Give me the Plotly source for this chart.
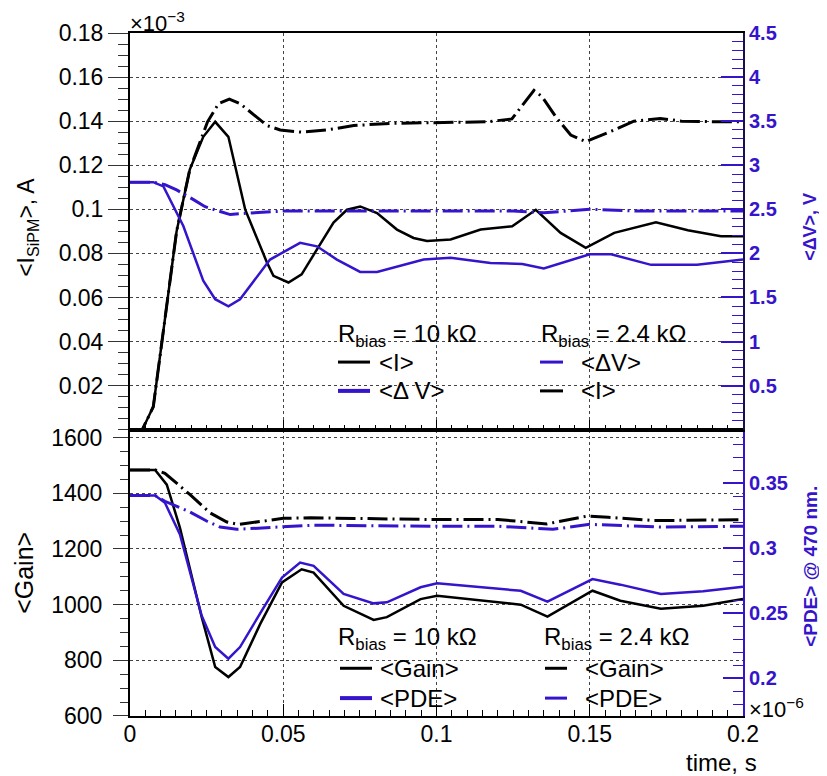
import plotly.graph_objects as go

# ---------------- data ----------------
# top panel: <I_SiPM> (x1e-3 A) and <dV> (V), R_bias = 10 kOhm (solid) / 2.4 kOhm (dashed)
t_I10 = [0, 0.004, 0.0076, 0.0114, 0.0152, 0.0195, 0.0239, 0.0278, 0.0321, 0.0376, 0.0447, 0.0468,
         0.0517, 0.056, 0.061, 0.0664, 0.0708, 0.0751, 0.0806, 0.0871, 0.0925, 0.0969, 0.1046, 0.1144,
         0.1247, 0.1324, 0.1405, 0.1487, 0.158, 0.1716, 0.182, 0.1928, 0.2]
I10 = [0, 0, 0.0104, 0.050, 0.090, 0.118, 0.1329, 0.1397, 0.1329, 0.0998, 0.0758, 0.0698,
       0.0668, 0.0705, 0.082, 0.094, 0.0998, 0.1013, 0.0983, 0.0908, 0.087, 0.0856, 0.0863, 0.0908,
       0.0923, 0.0998, 0.0893, 0.0825, 0.0893, 0.0941, 0.0905, 0.0878, 0.0878]

t_V10 = [0, 0.0076, 0.0109, 0.0174, 0.0239, 0.0278, 0.0321, 0.0359, 0.0457, 0.0555, 0.061, 0.0675,
         0.0751, 0.0806, 0.0958, 0.1046, 0.1176, 0.128, 0.135, 0.150, 0.157, 0.170, 0.185, 0.2]
V10 = [2.808, 2.808, 2.76, 2.31, 1.69, 1.48, 1.40, 1.48, 1.93, 2.12, 2.08, 1.93,
       1.79, 1.79, 1.93, 1.95, 1.89, 1.88, 1.83, 1.99, 1.99, 1.87, 1.87, 1.93]

t_I24 = [0, 0.004, 0.0076, 0.0114, 0.0152, 0.0195, 0.0253, 0.0289, 0.0324, 0.0359, 0.0419, 0.0447,
         0.049, 0.056, 0.0643, 0.073, 0.085, 0.099, 0.1165, 0.1246, 0.129, 0.1318, 0.1345, 0.1389,
         0.1438, 0.1487, 0.158, 0.1644, 0.173, 0.18, 0.1928, 0.2]
I24 = [0, 0, 0.0104, 0.050, 0.090, 0.118, 0.1397, 0.148, 0.150, 0.148, 0.141, 0.138,
       0.136, 0.135, 0.136, 0.138, 0.139, 0.1394, 0.1397, 0.141, 0.1487, 0.154, 0.151, 0.142,
       0.1337, 0.1307, 0.136, 0.140, 0.1412, 0.140, 0.1397, 0.1397]

t_V24 = [0, 0.0076, 0.0114, 0.0152, 0.0207, 0.0245, 0.0289, 0.0327, 0.0359, 0.050, 0.07, 0.09,
         0.11, 0.125, 0.135, 0.15, 0.165, 0.18, 0.2]
V24 = [2.808, 2.808, 2.78, 2.72, 2.61, 2.53, 2.48, 2.44, 2.45, 2.48, 2.48, 2.48,
       2.48, 2.48, 2.46, 2.50, 2.48, 2.48, 2.48]

# bottom panel: <Gain> and <PDE> @ 470 nm
t_G10 = [0, 0.0082, 0.012, 0.0163, 0.0234, 0.0278, 0.0321, 0.0359, 0.0425, 0.0496, 0.056, 0.0599,
         0.0697, 0.0795, 0.0838, 0.0948, 0.1002, 0.1275, 0.1362, 0.1509, 0.16, 0.1732, 0.187, 0.2]
G10 = [1484, 1484, 1431, 1276, 955, 776, 740, 776, 931, 1080, 1127, 1115,
       996, 945, 955, 1020, 1032, 1000, 957, 1050, 1014, 985, 996, 1020]

t_P10 = [0, 0.0082, 0.0114, 0.0163, 0.0234, 0.0278, 0.0321, 0.0359, 0.043, 0.0496, 0.0555, 0.0599,
         0.0697, 0.0795, 0.0838, 0.0948, 0.1002, 0.1275, 0.1362, 0.1509, 0.16, 0.1732, 0.187, 0.2]
P10 = [0.3406, 0.3406, 0.335, 0.3107, 0.248, 0.224, 0.215, 0.224, 0.252, 0.2775, 0.289, 0.2865,
       0.2648, 0.2576, 0.2584, 0.270, 0.273, 0.2673, 0.259, 0.2763, 0.272, 0.2648, 0.267, 0.2704]

t_G24 = [0, 0.0082, 0.0114, 0.0196, 0.0261, 0.0316, 0.0354, 0.0398, 0.05, 0.0588, 0.08, 0.098,
         0.12, 0.136, 0.149, 0.156, 0.171, 0.2]
G24 = [1484, 1484, 1472, 1395, 1330, 1297, 1288, 1294, 1310, 1312, 1308, 1306,
       1306, 1290, 1318, 1314, 1302, 1305]

t_P24 = [0, 0.0082, 0.0114, 0.019, 0.025, 0.0294, 0.0348, 0.0435, 0.05, 0.0599, 0.098, 0.12,
         0.138, 0.15, 0.173, 0.2]
P24 = [0.3406, 0.3406, 0.3362, 0.3286, 0.321, 0.3163, 0.3146, 0.3158, 0.317, 0.3178, 0.317, 0.317,
       0.3146, 0.3184, 0.3163, 0.317]

x_ticks = [0, 0.05, 0.1, 0.15, 0.2]
x_labels = ["0", "0.05", "0.1", "0.15", "0.2"]
I_ticks = [0.02, 0.04, 0.06, 0.08, 0.1, 0.12, 0.14, 0.16, 0.18]
I_labels = ["0.02", "0.04", "0.06", "0.08", "0.1", "0.12", "0.14", "0.16", "0.18"]
V_ticks = [0.5, 1, 1.5, 2, 2.5, 3, 3.5, 4, 4.5]
V_labels = ["0.5", "1", "1.5", "2", "2.5", "3", "3.5", "4", "4.5"]
G_ticks = [600, 800, 1000, 1200, 1400, 1600]
G_labels = ["600", "800", "1000", "1200", "1400", "1600"]
P_ticks = [0.2, 0.25, 0.3, 0.35]
P_labels = ["0.2", "0.25", "0.3", "0.35"]

# ---------------- style ----------------
BLUE = "#3514cc"
FONT = "Liberation Sans, Arial, Helvetica, sans-serif"
DASH = "20px,5px,2px,5px"
OFF = 8  # page body margin of the html page
W, H = 827 - OFF, 776 - OFF
L, R, T, B = 130 - OFF, 84, 29 - OFF, 60
PW, PH = 613, 687
split = (716 - 428) / PH


def px(xp):
    return (xp - 130) / PW


def py(yp):
    return (716 - yp) / PH


fig = go.Figure()

# top panel
fig.add_trace(go.Scatter(x=t_I10, y=I10, mode="lines", line=dict(color="black", width=2.5),
                         xaxis="x2", yaxis="y"))
fig.add_trace(go.Scatter(x=t_I24, y=I24, mode="lines", line=dict(color="black", width=3, dash=DASH),
                         xaxis="x2", yaxis="y"))
fig.add_trace(go.Scatter(x=t_V10, y=V10, mode="lines", line=dict(color=BLUE, width=2.5),
                         xaxis="x2", yaxis="y3"))
fig.add_trace(go.Scatter(x=t_V24, y=V24, mode="lines", line=dict(color=BLUE, width=3, dash=DASH),
                         xaxis="x2", yaxis="y3"))
# bottom panel
fig.add_trace(go.Scatter(x=t_G10, y=G10, mode="lines", line=dict(color="black", width=2.5),
                         xaxis="x", yaxis="y2"))
fig.add_trace(go.Scatter(x=t_G24, y=G24, mode="lines", line=dict(color="black", width=3, dash=DASH),
                         xaxis="x", yaxis="y2"))
fig.add_trace(go.Scatter(x=t_P10, y=P10, mode="lines", line=dict(color=BLUE, width=2.5),
                         xaxis="x", yaxis="y4"))
fig.add_trace(go.Scatter(x=t_P24, y=P24, mode="lines", line=dict(color=BLUE, width=3, dash=DASH),
                         xaxis="x", yaxis="y4"))

grid = dict(showgrid=True, gridcolor="#444", griddash="dot", gridwidth=1)
tf = dict(family=FONT, size=23, color="black")
tfb = dict(family=FONT, size=20, color=BLUE, weight="bold")

fig.update_layout(
    width=W, height=H, margin=dict(l=L, r=R, t=T, b=B),
    paper_bgcolor="white", plot_bgcolor="white", showlegend=False,
    font=dict(family=FONT, color="black"),
    xaxis=dict(domain=[0, 1], anchor="y2", range=[0, 0.2], tickmode="array", tickvals=x_ticks,
               ticktext=x_labels, ticks="inside", ticklen=12, tickwidth=1,
               tickcolor="black", showline=True, linecolor="black", linewidth=2, mirror=True,
               tickfont=tf, zeroline=False, ticklabelstandoff=-4,
               minor=dict(ticks="inside", ticklen=6, dtick=0.005, tick0=0, tickcolor="black", showgrid=False),
               **grid),
    xaxis2=dict(domain=[0, 1], anchor="y", range=[0, 0.2], matches="x", tickmode="array", tickvals=x_ticks,
                showticklabels=False, ticks="inside", ticklen=10, tickwidth=1, tickcolor="black",
                showline=True, linecolor="black", linewidth=2, mirror=True, zeroline=False,
                minor=dict(ticks="inside", ticklen=5, dtick=0.005, tick0=0, tickcolor="black", showgrid=False),
                **grid),
    yaxis=dict(domain=[split, 1], anchor="x2", range=[0, 0.18], tickmode="array", tickvals=I_ticks,
               ticktext=I_labels,
               ticks="outside", ticklen=20, tickwidth=1, tickcolor="#333", tickfont=tf,
               ticklabelstandoff=0,
               showline=True, linecolor="black", linewidth=2, zeroline=False,
               minor=dict(ticks="outside", ticklen=10, dtick=0.005, tick0=0, tickcolor="#333", showgrid=False),
               **grid),
    yaxis3=dict(overlaying="y", side="right", anchor="x2", range=[0, 4.5], tickmode="array",
                tickvals=V_ticks, ticktext=V_labels,
                ticks="inside", ticklen=22, tickwidth=2, tickcolor=BLUE, tickfont=tfb,
                showline=True, linecolor="#1a1050", linewidth=2, zeroline=False, showgrid=False,
                minor=dict(ticks="inside", ticklen=11, dtick=0.1, tick0=0, tickcolor=BLUE, tickwidth=1)),
    yaxis2=dict(domain=[0, split], anchor="x", range=[600, 1628.6], tickmode="array", tickvals=G_ticks,
                ticktext=G_labels,
                ticks="outside", ticklen=15, tickwidth=1, tickcolor="#333", tickfont=tf,
                ticklabelstandoff=6,
                showline=True, linecolor="black", linewidth=2, zeroline=False,
                minor=dict(ticks="outside", ticklen=8, dtick=50, tick0=600, tickcolor="#333", showgrid=False),
                **grid),
    yaxis4=dict(overlaying="y2", side="right", anchor="x", range=[0.1709, 0.3913], tickmode="array",
                tickvals=P_ticks, ticktext=P_labels,
                ticks="inside", ticklen=20, tickwidth=2, tickcolor=BLUE, tickfont=tfb,
                showline=True, linecolor=BLUE, linewidth=2, zeroline=False, showgrid=False,
                minor=dict(ticks="inside", ticklen=10, dtick=0.01, tick0=0.2, tickcolor=BLUE, tickwidth=1)),
)

ann = []


def text(x, y, s, size=24, color="black", xanchor="left", yanchor="middle", angle=0, bold=False):
    f = dict(family=FONT, size=size, color=color)
    if bold:
        f["weight"] = "bold"
    ann.append(dict(x=x, y=y, xref="paper", yref="paper", text=s, showarrow=False, xanchor=xanchor,
                    yanchor=yanchor, textangle=angle, font=f))


# axis titles & multipliers
text(px(28), py(225), "&lt;I<sub>SiPM</sub>&gt;, A", size=23, xanchor="center", angle=-90)
text(px(24), py(572), "&lt;Gain&gt;", size=25, xanchor="center", angle=-90)
text(px(810), py(224), "&lt;ΔV&gt;, V", size=18, color=BLUE, xanchor="center", angle=-90, bold=True)
text(px(811), py(566), "&lt;PDE&gt; @ 470 nm.", size=19, color=BLUE, xanchor="center", angle=-90, bold=True)
text(px(128), py(18), "×10<sup>−3</sup>", size=22)
text(px(747), py(708), "×10<sup>−6</sup>", size=22)
text(px(759), py(763), "time, s", size=24, xanchor="right")

# legends
shapes = []


def sample(x0, x1, y, color, width=3):
    shapes.append(dict(type="line", xref="paper", yref="paper", x0=px(x0), x1=px(x1), y0=py(y), y1=py(y),
                       line=dict(color=color, width=width)))


text(px(336), py(333), "R<sub>bias</sub> = 10 kΩ")
sample(338, 370, 360, "black")
text(px(377), py(360), "&lt;I&gt;")
sample(338, 370, 389, BLUE, 4)
text(px(377), py(389), "&lt;Δ V&gt;")
text(px(539), py(333), "R<sub>bias</sub> = 2.4 kΩ")
sample(540, 563, 360, BLUE, 3)
text(px(579), py(360), "&lt;ΔV&gt;")
sample(540, 563, 389, "black", 3)
text(px(579), py(389), "&lt;I&gt;")

text(px(336), py(638), "R<sub>bias</sub> = 10 kΩ")
sample(340, 372, 668, "black")
text(px(378), py(668), "&lt;Gain&gt;")
sample(340, 372, 698, BLUE, 4)
text(px(378), py(698), "&lt;PDE&gt;")
text(px(542), py(638), "R<sub>bias</sub> = 2.4 kΩ")
sample(545, 567, 668, "black", 3)
text(px(583), py(668), "&lt;Gain&gt;")
sample(545, 567, 698, BLUE, 3)
text(px(583), py(698), "&lt;PDE&gt;")

fig.update_layout(annotations=ann, shapes=shapes)
fig.write_html("out.html")
